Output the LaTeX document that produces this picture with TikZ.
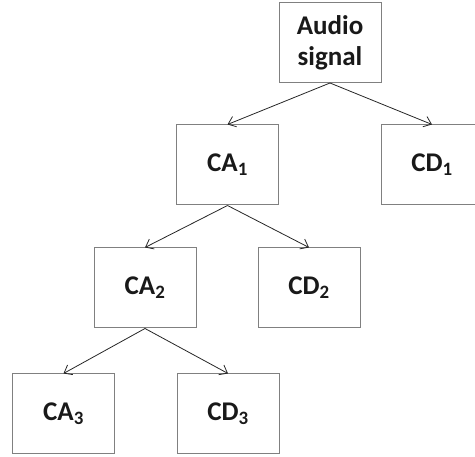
\documentclass[tikz,border=0pt]{standalone}
\usepackage{fontspec}
\setmainfont{Carlito}
\usetikzlibrary{arrows.meta}

\begin{document}
\begin{tikzpicture}[x=1pt,y=1pt,
  box/.style={draw=black!50,line width=1pt,minimum width=102pt,minimum height=80pt,
    inner sep=0pt,align=center,font=\fontsize{27}{31}\selectfont\bfseries,text=black!90},
  link/.style={draw=black!85,line width=0.8pt,-{Straight Barb[length=7pt,width=11pt]}}]
  \useasboundingbox (0,0) rectangle (475,457);
  \node[box] (sig) at (330,414.5) {Audio\\signal};
  \node[box] (ca1) at (227.5,292) {CA\textsubscript{1}};
  \node[box] (cd1) at (432,292) {CD\textsubscript{1}};
  \node[box] (ca2) at (145,169) {CA\textsubscript{2}};
  \node[box] (cd2) at (309,169) {CD\textsubscript{2}};
  \node[box] (ca3) at (63.5,43) {CA\textsubscript{3}};
  \node[box] (cd3) at (228,43) {CD\textsubscript{3}};
  % decomposition tree
  \draw[link] (sig.south) -- (ca1.north);
  \draw[link] (sig.south) -- (cd1.north);
  \draw[link] (ca1.south) -- (ca2.north);
  \draw[link] (ca1.south) -- (cd2.north);
  \draw[link] (ca2.south) -- (ca3.north);
  \draw[link] (ca2.south) -- (cd3.north);
\end{tikzpicture}
\end{document}
